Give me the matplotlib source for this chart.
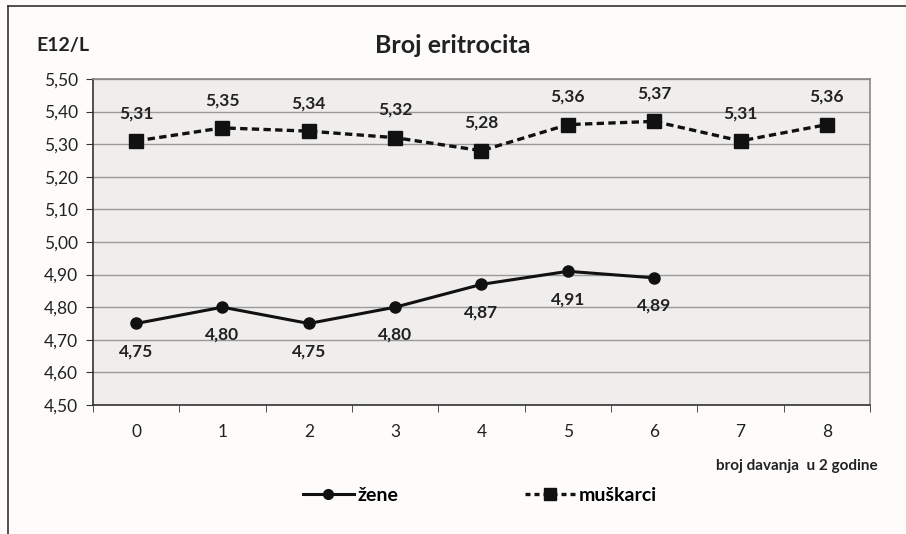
import matplotlib; matplotlib.use("Agg")
import matplotlib.pyplot as plt
from matplotlib.lines import Line2D
import numpy as np

plt.rcParams.update({"font.family": ["Lato", "DejaVu Sans"]})

# data
broj = [0, 1, 2, 3, 4, 5, 6, 7, 8]
zene = [4.75, 4.80, 4.75, 4.80, 4.87, 4.91, 4.89]
muskarci = [5.31, 5.35, 5.34, 5.32, 5.28, 5.36, 5.37, 5.31, 5.36]
yticks = [4.50, 4.60, 4.70, 4.80, 4.90, 5.00, 5.10, 5.20, 5.30, 5.40, 5.50]

def fmt(v):
    return f"{v:.2f}".replace(".", ",")

fig = plt.figure(figsize=(9.06, 5.34), dpi=100)
fig.patch.set_facecolor("#fdfcfb")
ax = fig.add_axes([0.1026, 0.2416, 0.8577, 0.6105])
ax.set_facecolor("#f0eeec")

x = np.array(broj)
ax.plot(x[:len(zene)], zene, "-", color="#111111", lw=2.2, marker="o", ms=8, zorder=3)
ax.plot(x, muskarci, "--", color="#111111", lw=2.4, dashes=(2.2, 1.3), marker="s", ms=10, zorder=3)

for xi, v in zip(x, zene):
    ax.annotate(fmt(v), (xi, v), xytext=(0, -20), textcoords="offset points",
                ha="center", va="center", fontsize=12.5, fontweight="bold", color="#222222")
for xi, v in zip(x, muskarci):
    ax.annotate(fmt(v), (xi, v), xytext=(0, 20), textcoords="offset points",
                ha="center", va="center", fontsize=12.5, fontweight="bold", color="#222222")

ax.set_xlim(-0.5, 8.5)
ax.set_ylim(4.50, 5.50)
ax.set_yticks(yticks)
ax.set_yticklabels([fmt(v) for v in yticks], fontsize=12.5, color="#222222")
ax.set_xticks(x)
ax.set_xticklabels([str(b) for b in broj], fontsize=12.5, color="#222222")
ax.set_xticks(np.arange(-0.5, 9, 1), minor=True)
ax.tick_params(axis="x", which="major", length=0, pad=14)
ax.tick_params(axis="x", which="minor", length=5, direction="out", color="#333333")
ax.tick_params(axis="y", length=5, direction="out", color="#333333", pad=6)
ax.grid(axis="y", color="#9a9a9a", lw=1.0)
ax.set_axisbelow(True)
for s in ["left", "bottom"]:
    ax.spines[s].set_color("#333333"); ax.spines[s].set_linewidth(1.2)
for s in ["top", "right"]:
    ax.spines[s].set_color("#888888"); ax.spines[s].set_linewidth(1.2)

fig.text(0.5, 0.915, "Broj eritrocita", ha="center", va="center", fontsize=18, fontweight="bold", color="#222222")
fig.text(0.04, 0.915, "E12/L", ha="left", va="center", fontsize=14, fontweight="bold", color="#222222")
fig.text(0.969, 0.128, "broj davanja  u 2 godine", ha="right", va="center", fontsize=11,
         fontweight="bold", color="#222222")

h1 = Line2D([], [], color="#111111", lw=2.2, marker="o", ms=7)
h2 = Line2D([], [], color="#111111", lw=2.4, ls="--", dashes=(1.5, 1.2), marker="s", ms=9)
fig.legend([h1, h2], ["žene", "muškarci"], loc="center", bbox_to_anchor=(0.53, 0.073), ncol=2,
           frameon=False, prop={"size": 14, "weight": "bold"}, handlelength=2.6, columnspacing=6.5,
           handletextpad=0.2)

# document frame
fig.add_artist(Line2D([0.009, 0.009], [0, 0.989], color="#333333", lw=1.2, transform=fig.transFigure))
fig.add_artist(Line2D([0.009, 1.0], [0.989, 0.989], color="#333333", lw=1.2, transform=fig.transFigure))

fig.savefig("out.png", dpi=100, facecolor=fig.get_facecolor())
